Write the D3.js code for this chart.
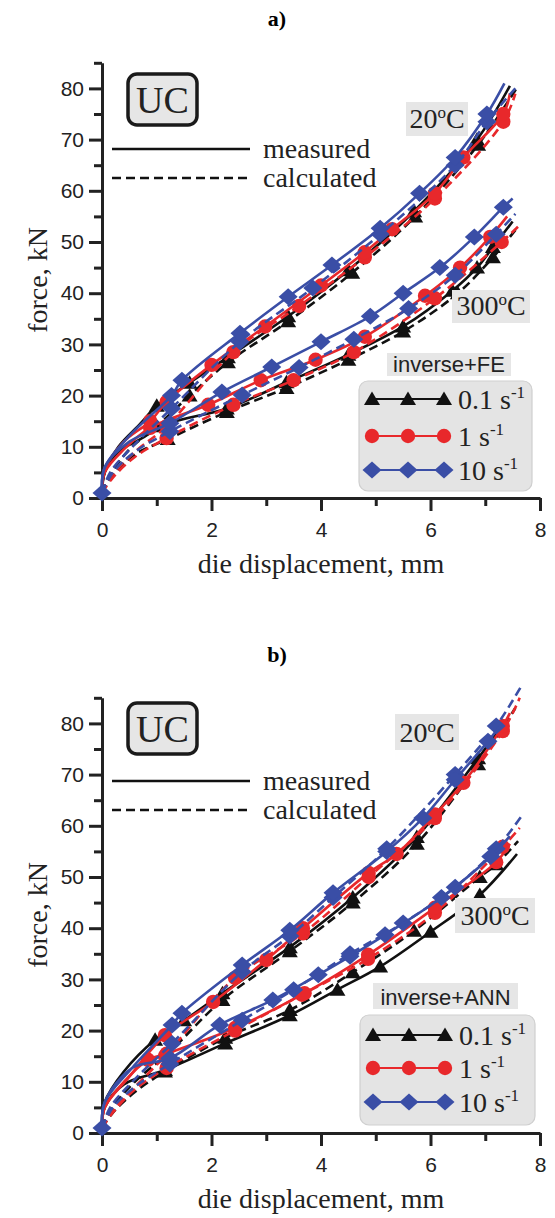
<!DOCTYPE html>
<html><head><meta charset="utf-8">
<script src="https://cdn.jsdelivr.net/npm/d3@7"></script>
<style>body{margin:0;background:#fff}</style>
</head><body>
<svg id="c" width="555" height="1218" xmlns="http://www.w3.org/2000/svg"></svg>
<script>
// ---------- DATA ----------
const xTicks = [0, 2, 4, 6, 8];
const xMinor = [1, 3, 5, 7];
const yTicks = [0, 10, 20, 30, 40, 50, 60, 70, 80];
const yMinor = [5, 15, 25, 35, 45, 55, 65, 75, 85];
const rateLabels = ["0.1", "1", "10"];
const rateColors = ["#111111", "#e8282b", "#3a4ea6"];

// Panel a (inverse+FE), 20 °C
const a20_r01_meas = [[0,1],[0.05,5],[0.3,10],[0.7,14.5],[1.0,18],[1.6,22.5],[2.3,27.5],[3.4,35.5],[4.5,44.5],[5.7,56],[6.85,70],[7.45,80.5]];
const a20_r01_calc = [[0,1],[0.15,4.5],[0.5,9.5],[1.0,14],[1.6,20],[2.3,26.5],[3.4,34.5],[4.57,44],[5.72,55],[6.87,69],[7.6,80.5]];
const a20_r1_meas  = [[0,1],[0.05,5.5],[0.4,11],[0.88,15],[1.18,18.8],[2.0,26],[2.98,33.5],[4.0,41.5],[4.8,48],[5.3,52.5],[6.08,59.5],[6.6,66.5],[7.33,75],[7.45,79]];
const a20_r1_calc  = [[0,1],[0.15,4],[0.6,9],[1.18,14],[2.4,28.5],[3.6,37.5],[4.8,47],[6.08,58.5],[7.33,73.5],[7.55,79]];
const a20_r10_meas = [[0,1],[0.05,6],[0.55,12.7],[1.27,20],[1.46,23],[2.52,32.2],[3.4,39.3],[4.2,45.5],[5.08,52.7],[5.8,59.5],[6.45,66.5],[7.03,75],[7.35,81]];
const a20_r10_calc = [[0,1],[0.15,5],[0.6,10.5],[1.27,17.5],[2.52,30.5],[3.85,41],[5.08,51.5],[6.45,65],[7.03,73.5],[7.55,80]];
// Panel a, 300 °C
const a300_r01_meas = [[0,1],[0.05,5],[0.3,9],[0.7,11.5],[1.2,14.5],[2.28,17.5],[3.37,22.6],[4.5,28],[5.5,33.5],[6.4,40.5],[6.85,45],[7.14,49],[7.5,54]];
const a300_r01_calc = [[0,1],[0.2,4.5],[0.6,8.5],[1.2,11.5],[2.28,16.8],[3.37,21.5],[4.5,27],[5.5,32.5],[6.5,40],[7.14,47],[7.6,53]];
const a300_r1_meas  = [[0,1],[0.05,5],[0.4,9.5],[0.88,13.7],[1.94,18.2],[2.9,23],[3.9,27],[4.8,31.5],[5.9,39.5],[6.54,45],[7.09,51],[7.4,55]];
const a300_r1_calc  = [[0,1],[0.2,4],[0.6,8],[1.18,11.7],[2.4,18.2],[3.5,23],[4.6,28.5],[6.08,39],[7.3,50],[7.6,53]];
const a300_r10_meas = [[0,1],[0.05,6],[0.5,11],[1.24,14.6],[2.19,20.7],[3.1,25.6],[4.0,30.5],[4.9,35.5],[5.5,40],[6.17,45],[6.8,51],[7.33,56.8],[7.5,58.5]];
const a300_r10_calc = [[0,1],[0.2,5],[0.6,9],[1.24,13],[2.56,20.1],[3.6,25.5],[4.6,31],[5.6,37],[6.45,43.5],[7.2,51.5],[7.55,55.5]];

// Panel b (inverse+ANN), 20 °C
const b20_r01_meas = [[0,1],[0.05,6],[0.4,12],[0.97,18.2],[1.5,22],[2.2,27.3],[3.43,36.3],[4.58,46],[5.75,57.8],[6.87,73.2],[7.35,80]];
const b20_r01_calc = [[0,1],[0.15,4.5],[0.6,10],[1.2,15.5],[2.2,26],[3.43,35.5],[4.58,45],[5.75,56.5],[6.87,72],[7.55,83]];
const b20_r1_meas  = [[0,1],[0.05,5],[0.5,11],[1.15,19.1],[2.03,25.6],[3.0,33.8],[3.67,40],[4.87,50.8],[5.38,54.5],[6.08,62.2],[6.6,68.4],[7.32,79.5],[7.45,82]];
const b20_r1_calc  = [[0,1],[0.15,4],[0.6,9],[1.15,15],[2.43,30.3],[3.67,39],[4.87,50],[6.08,61.5],[7.32,78.5],[7.63,85]];
const b20_r10_meas = [[0,1],[0.05,6],[0.55,12.7],[1.28,21.1],[1.46,23.4],[2.56,32.8],[3.43,39.6],[4.22,46.9],[5.2,55],[5.86,61.5],[6.45,69],[7.05,76.5],[7.3,80]];
const b20_r10_calc = [[0,1],[0.15,5],[0.6,10.5],[1.28,17.5],[2.56,31.5],[3.43,38.5],[4.22,46],[5.2,55.5],[6.45,70],[7.2,79.5],[7.67,87.5]];
// Panel b, 300 °C
const b300_r01_meas = [[0,1],[0.05,5],[0.4,9.5],[1.15,12.3],[2.25,17.5],[3.43,23],[4.3,28],[5.08,32.5],[6.0,39.3],[6.9,46.5],[7.58,54.5]];
const b300_r01_calc = [[0,1],[0.2,4],[0.6,8],[1.15,12],[2.25,18.6],[3.43,24],[4.58,31.4],[5.7,39.5],[6.9,50],[7.2,52.5],[7.6,57]];
const b300_r1_meas  = [[0,1],[0.05,5],[0.4,10],[0.84,14.3],[1.18,15.5],[2.43,20.5],[3.7,27.3],[4.86,34.8],[6.08,44],[7.2,52.9],[7.45,56.5]];
const b300_r1_calc  = [[0,1],[0.2,4],[0.6,8.5],[1.18,12.7],[2.43,20],[3.65,27],[4.86,34],[6.08,43],[7.32,55.9],[7.63,59.6]];
const b300_r10_meas = [[0,1],[0.05,6],[0.55,12.7],[1.24,14.6],[2.15,21.1],[3.12,26],[3.95,30.9],[4.53,34.5],[5.17,38.7],[6.2,46],[7.1,54],[7.45,58]];
const b300_r10_calc = [[0,1],[0.2,5],[0.6,9],[1.24,13.5],[2.56,22],[3.5,28],[4.53,35],[5.5,41],[6.45,48],[7.2,55.5],[7.67,62]];

// ---------- DRAW ----------
const svg = d3.select("#c");
const SERIF = "'Liberation Serif','DejaVu Serif',serif";
const SANS = "'Liberation Sans',Arial,sans-serif";
const x = d3.scaleLinear().domain([0, 8]).range([102, 540]);
const line = d3.line().x(d => x(d[0])).curve(d3.curveCatmullRom.alpha(0.5));

function markerPath(rate) {
  if (rate === 0) return "M0,-7.5L8,6L-8,6Z";
  if (rate === 1) return d3.symbol(d3.symbolCircle, Math.PI * 7.2 * 7.2)();
  return "M0,-8.5L9.5,0L0,8.5L-9.5,0Z";
}

function drawPanel(cfg) {
  const y = d3.scaleLinear().domain([0, 85]).range([cfg.y0, cfg.y0 - 85 * 5.12]);
  const g = svg.append("g");
  line.y(d => y(d[1]));

  g.append("text").attr("x", 277).attr("y", cfg.labelY).attr("text-anchor", "middle")
    .attr("font-family", SERIF).attr("font-weight", "bold").attr("font-size", 22).text(cfg.label);

  const axCol = "#222";
  const yAx = g.append("g").attr("transform", "translate(102,0)")
    .call(d3.axisLeft(y).tickValues(yTicks).tickSize(13).tickSizeOuter(0).tickPadding(5).tickFormat(d3.format("d")));
  const yAxm = g.append("g").attr("transform", "translate(102,0)")
    .call(d3.axisLeft(y).tickValues(yMinor).tickSize(8).tickSizeOuter(0).tickFormat(""));
  const xAx = g.append("g").attr("transform", `translate(0,${cfg.y0})`)
    .call(d3.axisBottom(x).tickValues(xTicks).tickSize(13).tickSizeOuter(0).tickPadding(11).tickFormat(d3.format("d")));
  const xAxm = g.append("g").attr("transform", `translate(0,${cfg.y0})`)
    .call(d3.axisBottom(x).tickValues(xMinor).tickSize(8).tickSizeOuter(0).tickFormat(""));
  [yAx, yAxm, xAx, xAxm].forEach(a => {
    a.selectAll("path.domain").attr("stroke", axCol).attr("stroke-width", 3);
    a.selectAll(".tick line").attr("stroke", axCol).attr("stroke-width", 3);
    a.selectAll("text").attr("font-family", SANS).attr("font-size", 21).attr("fill", "#222");
  });
  yAxm.select("path.domain").remove();
  xAxm.select("path.domain").remove();

  g.append("text").attr("x", 321).attr("y", cfg.y0 + 75).attr("text-anchor", "middle")
    .attr("font-family", SERIF).attr("font-size", 28).attr("fill", "#222").text("die displacement, mm");
  g.append("text").attr("transform", `translate(47,${cfg.y0 - 218}) rotate(-90)`).attr("text-anchor", "middle")
    .attr("font-family", SERIF).attr("font-size", 28).attr("fill", "#222").text("force, kN");

  const curves = [];
  [0, 1, 2].forEach(r => cfg.series.filter(s => s.rate === r).forEach(s => curves.push(s)));
  curves.forEach(s => {
    g.append("path").datum(s.pts).attr("d", line).attr("fill", "none")
      .attr("stroke", rateColors[s.rate]).attr("stroke-width", 2.6)
      .attr("stroke-dasharray", s.kind === "calc" ? "9,5" : null);
    const mk = s.pts.filter((d, i) => d[0] >= 0.8 && i < s.pts.length - 1);
    g.selectAll(null).data(mk).join("path")
      .attr("transform", d => `translate(${x(d[0])},${y(d[1])})`)
      .attr("d", markerPath(s.rate)).attr("fill", rateColors[s.rate]);
  });
  g.append("path").attr("transform", `translate(${x(0)},${y(1)})`)
    .attr("d", markerPath(2)).attr("fill", rateColors[2]);

  const a = cfg.ann;
  g.append("rect").attr("x", 128).attr("y", a.uc).attr("width", 69).attr("height", 51).attr("rx", 9)
    .attr("fill", "#e6e6e6").attr("stroke", "#1a1a1a").attr("stroke-width", 3.5);
  g.append("text").attr("x", 162.5).attr("y", a.uc + 39).attr("text-anchor", "middle")
    .attr("font-family", SERIF).attr("font-size", 38).attr("fill", "#222").text("UC");

  g.append("line").attr("x1", 112).attr("x2", 250).attr("y1", a.meas).attr("y2", a.meas)
    .attr("stroke", "#111").attr("stroke-width", 2.6);
  g.append("line").attr("x1", 112).attr("x2", 250).attr("y1", a.meas + 29).attr("y2", a.meas + 29)
    .attr("stroke", "#111").attr("stroke-width", 2.6).attr("stroke-dasharray", "9,5");
  g.append("text").attr("x", 263).attr("y", a.meas + 9).attr("font-family", SERIF).attr("font-size", 28)
    .attr("fill", "#222").text("measured");
  g.append("text").attr("x", 263).attr("y", a.meas + 38).attr("font-family", SERIF).attr("font-size", 28)
    .attr("fill", "#222").text("calculated");

  function tempLabel(b, t) {
    g.append("rect").attr("x", b[0]).attr("y", b[1]).attr("width", b[2]).attr("height", b[3]).attr("fill", "#e6e6e6");
    const tx = g.append("text").attr("x", b[0] + b[2] / 2).attr("y", b[1] + b[3] - 8).attr("text-anchor", "middle")
      .attr("font-family", SERIF).attr("font-size", 28).attr("fill", "#222");
    tx.append("tspan").text(t);
    tx.append("tspan").attr("font-size", 17).attr("dy", -10).text("o");
    tx.append("tspan").attr("dy", 10).text("C");
  }
  tempLabel(a.t20, "20");
  tempLabel(a.t300, "300");

  const mb = a.method;
  g.append("rect").attr("x", mb[0]).attr("y", mb[1]).attr("width", mb[2]).attr("height", mb[3]).attr("fill", "#e6e6e6");
  g.append("text").attr("x", mb[0] + mb[2] / 2).attr("y", mb[1] + mb[3] - 4).attr("text-anchor", "middle")
    .attr("font-family", SANS).attr("font-size", 22).attr("fill", "#222").text(cfg.method);

  const lb = a.legend;
  g.append("rect").attr("x", lb[0]).attr("y", lb[1]).attr("width", lb[2]).attr("height", lb[3]).attr("rx", 9)
    .attr("fill", "#e4e4e4").attr("stroke", "#cfcfcf").attr("stroke-width", 1.2);
  rateLabels.forEach((lab, r) => {
    const ly = a.entries[r];
    g.append("line").attr("x1", lb[0] + 13).attr("x2", lb[0] + 85).attr("y1", ly).attr("y2", ly)
      .attr("stroke", rateColors[r]).attr("stroke-width", 2.2);
    [0, 36, 72].forEach(dx => {
      g.append("path").attr("transform", `translate(${lb[0] + 13 + dx},${ly})`)
        .attr("d", markerPath(r)).attr("fill", rateColors[r]);
    });
    const tx = g.append("text").attr("x", lb[0] + 99).attr("y", ly + 10)
      .attr("font-family", SERIF).attr("font-size", 28).attr("fill", "#222");
    tx.append("tspan").text(lab + " s");
    tx.append("tspan").attr("font-size", 17).attr("dy", -11).text("-1");
  });
}

drawPanel({
  label: "a)", labelY: 26, y0: 498, method: "inverse+FE",
  ann: { uc: 74, meas: 149, t20: [406, 102, 62, 34], t300: [452, 290, 78, 33],
         method: [387, 353, 124, 23], legend: [359, 381, 173, 110], entries: [399, 436, 470] },
  series: [
    { rate: 0, kind: "calc", pts: a20_r01_calc }, { rate: 0, kind: "meas", pts: a20_r01_meas },
    { rate: 0, kind: "calc", pts: a300_r01_calc }, { rate: 0, kind: "meas", pts: a300_r01_meas },
    { rate: 1, kind: "calc", pts: a20_r1_calc }, { rate: 1, kind: "meas", pts: a20_r1_meas },
    { rate: 1, kind: "calc", pts: a300_r1_calc }, { rate: 1, kind: "meas", pts: a300_r1_meas },
    { rate: 2, kind: "calc", pts: a20_r10_calc }, { rate: 2, kind: "meas", pts: a20_r10_meas },
    { rate: 2, kind: "calc", pts: a300_r10_calc }, { rate: 2, kind: "meas", pts: a300_r10_meas }
  ]
});

drawPanel({
  label: "b)", labelY: 662, y0: 1133, method: "inverse+ANN",
  ann: { uc: 703, meas: 781, t20: [395, 714, 64, 36], t300: [455, 898, 80, 35],
         method: [373, 983, 145, 26], legend: [360, 1015, 175, 110], entries: [1035, 1068, 1102] },
  series: [
    { rate: 0, kind: "calc", pts: b20_r01_calc }, { rate: 0, kind: "meas", pts: b20_r01_meas },
    { rate: 0, kind: "calc", pts: b300_r01_calc }, { rate: 0, kind: "meas", pts: b300_r01_meas },
    { rate: 1, kind: "calc", pts: b20_r1_calc }, { rate: 1, kind: "meas", pts: b20_r1_meas },
    { rate: 1, kind: "calc", pts: b300_r1_calc }, { rate: 1, kind: "meas", pts: b300_r1_meas },
    { rate: 2, kind: "calc", pts: b20_r10_calc }, { rate: 2, kind: "meas", pts: b20_r10_meas },
    { rate: 2, kind: "calc", pts: b300_r10_calc }, { rate: 2, kind: "meas", pts: b300_r10_meas }
  ]
});
</script></body></html>
